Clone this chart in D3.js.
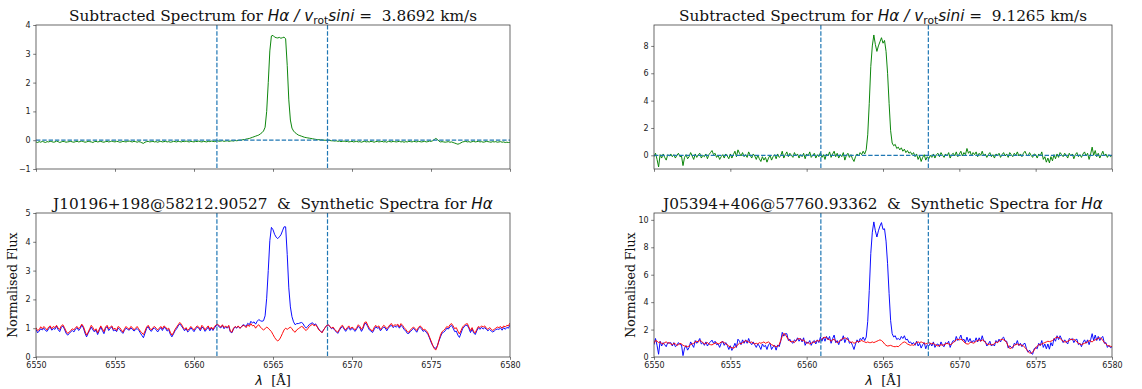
<!DOCTYPE html>
<html><head><meta charset="utf-8">
<script src="https://cdn.jsdelivr.net/npm/d3@7"></script>
<style>body{margin:0;background:#fff}svg{display:block}</style>
</head><body><svg id="c" width="1142" height="389"></svg>
<script>
// wavelength grid of the spectra (Å)
const lambdaStart = 6550, lambdaStep = 0.1;
const xTicks = [6550, 6555, 6560, 6565, 6570, 6575, 6580];
const yTicksTopLeft = [-1, 0, 1, 2, 3, 4];
const yTicksTopRight = [0, 2, 4, 6, 8];
const yTicksBottomLeft = [0, 1, 2, 3, 4, 5];
const yTicksBottomRight = [0, 2, 4, 6, 8, 10];
const windowLeft = [6561.45, 6568.45];
const windowRight = [6560.93, 6567.97];

const leftSubtracted = [
-0.06,-0.08,-0.05,-0.07,-0.04,-0.06,-0.08,-0.05,-0.06,-0.04,
-0.05,-0.07,-0.06,-0.03,-0.05,-0.08,-0.06,-0.04,-0.05,-0.07,
-0.06,-0.05,-0.04,-0.06,-0.07,-0.05,-0.04,-0.06,-0.05,-0.03,
-0.05,-0.07,-0.06,-0.04,-0.05,-0.06,-0.08,-0.05,-0.04,-0.06,
-0.05,-0.04,-0.06,-0.07,-0.05,-0.04,-0.06,-0.05,-0.03,-0.05,
-0.06,-0.04,-0.05,-0.07,-0.06,-0.04,-0.05,-0.06,-0.04,-0.03,
-0.05,-0.06,-0.04,-0.05,-0.07,-0.05,-0.06,-0.09,-0.11,-0.07,
-0.05,-0.04,-0.06,-0.05,-0.04,-0.06,-0.05,-0.07,-0.05,-0.04,
-0.06,-0.05,-0.04,-0.06,-0.05,-0.07,-0.06,-0.04,-0.05,-0.06,
-0.04,-0.05,-0.06,-0.04,-0.05,-0.03,-0.05,-0.06,-0.04,-0.05,
-0.06,-0.04,-0.05,-0.03,-0.05,-0.06,-0.04,-0.05,-0.06,-0.04,
-0.05,-0.03,-0.04,-0.05,-0.03,-0.02,-0.04,-0.03,-0.02,-0.04,
-0.03,-0.02,-0.04,-0.03,-0.02,-0.03,-0.01,-0.02,-0.01,0.00,
0.00,0.02,0.02,0.04,0.05,0.06,0.08,0.10,0.12,0.14,
0.16,0.18,0.22,0.26,0.32,0.45,1.00,2.00,3.10,3.62,
3.64,3.58,3.56,3.55,3.57,3.54,3.56,3.58,3.52,2.60,
1.40,0.70,0.42,0.32,0.26,0.22,0.18,0.16,0.14,0.12,
0.10,0.09,0.08,0.07,0.06,0.05,0.04,0.03,0.02,0.02,
0.01,0.01,0.00,0.00,-0.01,0.00,-0.01,-0.02,-0.02,-0.03,
-0.02,-0.04,-0.03,-0.05,-0.04,-0.03,-0.05,-0.04,-0.06,-0.05,
-0.04,-0.06,-0.05,-0.04,-0.06,-0.05,-0.07,-0.05,-0.04,-0.06,
-0.05,-0.06,-0.04,-0.05,-0.07,-0.05,-0.04,-0.06,-0.05,-0.04,
-0.06,-0.05,-0.07,-0.04,-0.05,-0.06,-0.04,-0.05,-0.06,-0.05,
-0.04,-0.06,-0.05,-0.07,-0.05,-0.06,-0.04,-0.05,-0.06,-0.04,
-0.05,-0.06,-0.04,-0.05,-0.06,-0.05,-0.04,-0.06,-0.05,-0.03,
-0.04,-0.02,0.02,0.06,0.03,-0.03,-0.06,-0.05,-0.06,-0.07,
-0.06,-0.05,-0.07,-0.06,-0.08,-0.10,-0.12,-0.14,-0.12,-0.09,
-0.06,-0.05,-0.04,-0.06,-0.05,-0.07,-0.05,-0.04,-0.06,-0.05,
-0.04,-0.06,-0.05,-0.07,-0.06,-0.04,-0.05,-0.06,-0.07,-0.05,
-0.06,-0.05,-0.07,-0.06,-0.05,-0.07,-0.06,-0.08,-0.07,-0.08,
-0.07];

const leftSynthetic = [
1.02,0.92,0.95,1.05,0.98,1.06,1.00,0.94,1.04,1.08,
0.98,1.06,1.02,1.10,1.00,0.96,1.08,1.12,1.02,0.90,
0.82,0.86,0.92,0.98,0.94,1.02,1.06,0.98,1.04,1.14,
1.06,0.90,0.76,0.86,0.98,1.10,1.02,0.92,0.98,0.84,
0.96,1.08,0.98,0.88,1.04,1.10,0.98,1.04,1.08,0.96,
1.00,0.92,1.06,1.02,0.94,0.86,0.98,1.06,1.00,0.96,
1.06,1.02,0.94,1.00,1.06,0.98,0.90,0.84,0.78,0.90,
1.04,1.10,1.00,0.94,1.02,1.06,1.00,0.94,1.00,1.06,
0.98,1.08,1.04,0.96,1.00,0.86,0.76,0.84,0.96,1.04,
1.12,1.20,1.14,1.04,0.96,1.02,0.92,0.98,1.06,1.00,
0.94,1.02,1.08,1.04,0.96,1.10,1.04,0.94,1.02,1.08,
0.96,1.04,0.96,1.06,1.12,1.14,1.08,1.04,1.12,1.02,
1.08,1.02,1.10,0.90,0.86,1.00,1.06,1.02,1.08,1.00,
1.04,1.10,1.08,1.02,1.12,1.06,1.16,1.08,1.10,1.00,
1.08,1.12,1.04,0.98,0.94,0.98,1.04,1.00,0.94,0.88,
0.78,0.68,0.60,0.56,0.60,0.70,0.82,0.94,1.00,0.96,
1.00,1.04,0.98,0.90,0.86,0.94,0.98,1.02,1.06,1.04,
0.96,0.92,0.98,1.06,1.10,1.14,1.08,1.12,1.04,0.94,
0.90,0.84,0.94,1.02,1.10,1.12,1.06,1.00,1.04,0.96,
0.90,0.86,0.96,1.06,1.10,1.00,0.94,1.02,1.08,0.98,
1.04,1.00,0.94,1.02,1.12,1.06,0.96,1.04,1.20,1.22,
1.10,1.00,0.94,0.90,1.02,1.10,1.04,1.08,0.96,1.02,
1.10,1.06,0.98,1.04,1.12,1.16,1.06,1.12,1.10,1.14,
1.04,1.16,1.10,1.02,0.96,0.88,0.86,0.94,1.00,1.04,
0.98,0.92,1.02,1.08,1.04,0.94,0.96,0.92,0.84,0.70,
0.56,0.42,0.30,0.24,0.36,0.58,0.76,0.88,0.92,0.98,
1.06,1.02,1.12,1.16,1.08,0.98,1.02,0.90,0.80,0.92,
1.04,1.10,1.14,1.16,1.04,0.92,1.02,0.88,0.84,0.96,
1.06,1.02,1.08,1.04,1.08,1.00,0.96,1.02,0.98,0.92,
0.96,1.00,1.04,1.02,1.06,1.00,1.08,1.04,1.10,1.08,
1.18];

const leftObserved = [
0.96,0.84,0.90,0.98,0.94,1.00,0.92,0.89,0.98,1.04,
0.93,0.99,0.96,1.07,0.95,0.88,1.02,1.08,0.97,0.83,
0.76,0.81,0.88,0.92,0.87,0.97,1.02,0.92,0.99,1.11,
1.01,0.83,0.70,0.82,0.93,1.04,0.94,0.87,0.94,0.78,
0.91,1.04,0.92,0.81,0.99,1.06,0.92,0.99,1.05,0.91,
0.94,0.88,1.01,0.95,0.88,0.82,0.93,1.00,0.96,0.93,
1.01,0.96,0.90,0.95,0.99,0.93,0.84,0.75,0.67,0.83,
0.99,1.06,0.94,0.89,0.98,1.00,0.95,0.87,0.95,1.02,
0.92,1.03,1.00,0.90,0.95,0.79,0.70,0.80,0.91,0.98,
1.08,1.15,1.08,1.00,0.91,0.99,0.87,0.92,1.02,0.95,
0.88,0.98,1.03,1.01,0.91,1.04,1.00,0.89,0.96,1.04,
0.91,1.01,0.92,1.01,1.09,1.12,1.04,1.01,1.10,0.98,
1.05,1.00,1.06,0.87,0.84,0.97,1.05,1.00,1.07,1.00,
1.04,1.12,1.10,1.06,1.17,1.12,1.24,1.18,1.22,1.14,
1.24,1.30,1.26,1.24,1.26,1.43,2.04,3.00,4.04,4.50,
4.42,4.26,4.16,4.11,4.17,4.24,4.38,4.52,4.52,3.56,
2.40,1.74,1.40,1.22,1.12,1.16,1.16,1.18,1.20,1.16,
1.06,1.01,1.06,1.13,1.16,1.19,1.12,1.15,1.06,0.96,
0.91,0.85,0.94,1.02,1.09,1.12,1.05,0.98,1.02,0.93,
0.88,0.82,0.93,1.01,1.06,0.97,0.89,0.98,1.02,0.93,
1.00,0.94,0.89,0.98,1.06,1.01,0.89,0.99,1.16,1.16,
1.05,0.94,0.90,0.85,0.95,1.05,1.00,1.02,0.91,0.98,
1.04,1.01,0.91,1.00,1.07,1.10,1.02,1.07,1.04,1.09,
1.00,1.10,1.05,0.95,0.91,0.82,0.82,0.89,0.94,1.00,
0.93,0.86,0.98,1.03,0.98,0.89,0.92,0.86,0.79,0.67,
0.52,0.40,0.32,0.30,0.39,0.55,0.70,0.83,0.86,0.91,
1.00,0.97,1.05,1.10,1.00,0.88,0.90,0.76,0.68,0.83,
0.98,1.05,1.10,1.10,0.99,0.85,0.97,0.84,0.78,0.91,
1.02,0.96,1.03,0.97,1.02,0.96,0.91,0.96,0.91,0.87,
0.90,0.95,0.97,0.96,1.01,0.93,1.02,0.96,1.03,1.00,
1.11];

const rightSubtracted = [
-0.10,0.15,-0.30,-0.85,0.05,-0.20,0.10,-0.15,-0.35,0.05,
-0.05,0.10,-0.10,0.05,-0.20,0.00,0.15,-0.10,-0.05,-0.75,
-0.15,0.05,-0.25,-0.10,0.20,-0.05,-0.30,0.10,-0.15,0.05,
0.15,-0.20,0.00,-0.10,0.10,-0.25,0.05,0.20,0.35,0.05,
0.15,-0.15,0.00,-0.30,-0.10,0.05,-0.20,0.10,-0.05,-0.25,
0.10,-0.20,0.05,0.30,-0.10,0.40,0.15,-0.05,0.20,-0.10,
0.05,-0.15,0.25,0.00,-0.20,0.10,-0.05,-0.30,0.00,-0.25,
-0.45,-0.10,-0.35,-0.15,-0.50,-0.20,0.00,-0.35,-0.10,0.05,
-0.25,0.10,-0.15,-0.05,0.30,-0.20,0.05,0.25,-0.10,0.15,
0.00,-0.15,0.20,-0.05,0.10,-0.20,0.05,-0.10,0.15,-0.25,
0.10,-0.05,0.25,-0.15,0.00,0.15,-0.20,0.05,-0.10,0.20,
-0.15,0.05,-0.30,0.10,-0.05,0.25,-0.15,0.10,0.30,-0.10,
0.15,-0.20,0.05,-0.10,0.20,-0.35,0.00,0.15,-0.15,0.05,
-0.25,-0.45,-0.10,0.10,-0.05,0.20,0.05,0.30,0.10,0.40,
1.50,3.80,6.50,8.00,8.80,8.10,7.60,8.00,8.30,8.60,
8.20,8.40,7.60,6.00,3.80,1.80,0.90,0.70,0.80,0.50,
0.60,0.40,0.55,0.30,0.45,0.20,0.35,0.15,0.25,0.05,
0.20,-0.10,0.10,-0.30,-0.05,-0.45,-0.15,0.05,-0.35,-0.10,
-0.25,0.00,-0.15,0.10,-0.20,0.05,0.15,-0.10,0.20,0.00,
-0.15,0.10,-0.05,0.20,-0.20,0.05,0.15,-0.05,0.25,-0.10,
0.10,0.30,-0.05,0.20,0.05,0.50,0.15,0.30,-0.05,0.20,
0.05,0.25,-0.10,0.15,0.00,0.30,-0.05,0.10,-0.15,0.05,
0.20,-0.10,0.05,-0.20,0.10,0.00,0.15,-0.15,0.05,0.20,
-0.05,0.10,-0.15,0.20,0.05,-0.10,0.15,0.00,0.25,-0.05,
0.10,-0.10,0.15,0.30,0.05,-0.05,0.20,0.00,-0.15,0.10,
0.05,-0.20,0.10,-0.05,0.25,-0.30,-0.10,-0.50,-0.20,-0.55,
-0.10,-0.40,0.05,-0.25,0.10,-0.15,0.20,0.05,-0.10,0.15,
0.00,-0.20,0.15,-0.05,0.10,-0.25,0.05,0.20,-0.10,0.05,
-0.15,0.10,0.25,-0.05,0.15,-0.30,0.10,0.60,0.00,0.35,
-0.10,0.15,-0.20,0.05,0.30,-0.05,0.10,-0.15,0.05,-0.10,
0.00];

const rightSynthetic = [
1.00,1.20,1.15,1.05,1.10,1.00,0.95,1.05,1.10,1.00,
1.05,0.95,0.90,1.00,0.95,0.85,0.90,1.00,0.95,0.85,
0.80,0.78,0.75,0.80,0.90,0.95,1.00,1.10,1.15,1.10,
1.20,1.15,1.05,0.95,1.00,1.05,0.95,0.90,0.88,0.95,
1.00,1.05,0.95,1.00,1.10,1.10,1.05,0.95,0.90,0.80,
0.72,0.68,0.65,0.70,0.80,0.90,1.00,0.95,1.05,1.10,
1.20,1.15,1.10,1.05,1.10,1.00,0.95,1.00,0.95,1.05,
1.00,1.05,1.10,1.00,1.05,1.10,1.00,0.90,0.85,0.80,
0.75,0.78,0.90,1.20,1.50,1.72,1.65,1.45,1.30,1.15,
1.10,1.15,1.05,1.20,1.30,1.35,1.30,1.20,1.25,1.10,
1.00,1.05,0.95,1.00,1.10,1.05,1.15,1.20,1.15,1.25,
1.30,1.40,1.45,1.40,1.30,1.25,1.15,1.25,1.30,1.15,
1.05,1.10,1.20,1.30,1.35,1.40,1.35,1.25,1.15,1.05,
1.10,1.00,1.05,1.15,1.10,1.15,1.20,1.15,1.10,1.05,
1.10,1.05,1.05,1.10,1.05,1.10,1.15,1.20,1.25,1.20,
1.10,0.95,0.85,0.80,0.82,0.85,0.80,0.76,0.75,0.78,
0.75,0.85,0.95,1.05,1.10,1.05,0.95,0.90,0.85,0.90,
0.85,0.95,1.05,1.10,1.05,1.10,1.05,1.00,0.95,1.00,
1.05,1.00,0.95,1.00,0.90,0.85,0.80,0.85,0.90,0.85,
0.90,0.95,1.00,0.95,0.90,0.95,1.05,1.15,1.25,1.30,
1.25,1.30,1.25,1.10,1.00,0.95,0.95,1.05,1.10,1.00,
1.05,1.15,1.20,1.25,1.15,1.25,1.20,1.05,0.95,0.90,
0.95,0.90,0.88,1.00,1.10,1.05,1.15,1.25,1.30,1.25,
1.20,1.05,0.80,0.62,0.65,0.75,0.85,0.90,0.95,0.88,
0.90,0.85,0.80,0.70,0.55,0.40,0.30,0.28,0.35,0.50,
0.65,0.80,0.90,0.88,0.95,1.00,1.05,1.10,1.15,1.12,
1.15,1.20,1.30,1.40,1.45,1.42,1.35,1.25,1.15,1.10,
1.10,1.15,1.20,1.30,1.25,1.30,1.20,1.10,1.00,0.95,
0.90,0.95,1.00,1.05,1.10,1.20,1.15,1.10,1.20,1.25,
1.30,1.35,1.40,1.35,1.20,1.05,0.95,0.85,0.80,0.78,
0.75];

const rightObserved = [
0.90,1.35,0.85,0.20,1.15,0.80,1.05,0.90,0.75,1.05,
1.00,1.05,0.80,1.05,0.75,0.85,1.05,0.90,0.90,0.10,
0.65,0.83,0.50,0.70,1.10,0.90,0.70,1.20,1.00,1.15,
1.35,0.95,1.05,0.85,1.10,0.80,1.00,1.10,1.23,1.00,
1.15,0.90,0.95,0.70,1.00,1.15,0.85,1.05,0.85,0.55,
0.82,0.48,0.70,1.00,0.70,1.30,1.15,0.90,1.25,1.00,
1.25,1.00,1.35,1.05,0.90,1.10,0.90,0.70,0.95,0.80,
0.55,0.95,0.75,0.85,0.55,0.90,1.00,0.55,0.75,0.85,
0.50,0.88,0.75,1.15,1.80,1.52,1.70,1.70,1.20,1.30,
1.10,1.00,1.25,1.15,1.40,1.15,1.35,1.10,1.40,0.85,
1.10,1.00,1.20,0.85,1.10,1.20,0.95,1.25,1.05,1.45,
1.15,1.45,1.15,1.50,1.25,1.50,1.00,1.35,1.60,1.05,
1.20,0.90,1.25,1.20,1.55,1.05,1.35,1.40,1.00,1.10,
0.85,0.55,0.95,1.25,1.05,1.35,1.25,1.45,1.20,1.45,
2.60,4.85,7.55,9.10,9.85,9.20,8.75,9.20,9.55,9.80,
9.30,9.35,8.45,6.80,4.62,2.65,1.70,1.46,1.55,1.28,
1.35,1.25,1.50,1.35,1.55,1.25,1.30,1.05,1.10,0.95,
1.05,0.85,1.15,0.80,1.00,0.65,0.90,1.05,0.60,0.90,
0.80,1.00,0.80,1.10,0.70,0.90,0.95,0.75,1.10,0.85,
0.75,1.05,0.95,1.15,0.70,1.00,1.20,1.10,1.50,1.20,
1.35,1.60,1.20,1.30,1.05,1.45,1.10,1.35,1.05,1.20,
1.10,1.40,1.10,1.40,1.15,1.55,1.15,1.15,0.80,0.95,
1.15,0.80,0.93,0.80,1.20,1.05,1.30,1.10,1.35,1.45,
1.15,1.15,0.65,0.82,0.70,0.65,1.00,0.90,1.20,0.83,
1.00,0.75,0.95,1.00,0.60,0.35,0.50,0.28,0.20,0.60,
0.70,0.60,1.00,0.83,1.20,0.70,0.95,0.60,0.95,0.57,
1.05,0.80,1.35,1.15,1.55,1.27,1.55,1.30,1.05,1.25,
1.10,0.95,1.35,1.25,1.35,1.05,1.25,1.30,0.90,1.00,
0.75,1.05,1.25,1.00,1.25,0.90,1.25,1.70,1.20,1.60,
1.20,1.50,1.20,1.40,1.50,1.00,1.05,0.70,0.85,0.68,
0.75];

const titleTopLeftValue = "3.8692";
const titleTopRightValue = "9.1265";
const starLeft = "J10196+198@58212.90527";
const starRight = "J05394+406@57760.93362";

// ---------------- drawing ----------------
const svg = d3.select("#c");
const SERIF = "'DejaVu Serif', serif", SANS = "'DejaVu Sans', sans-serif";
const AX = "#444", DASHC = "#1f77b4";
const cols = [{l: 36, r: 510}, {l: 654, r: 1112}];
const rows = [{t: 25, b: 169}, {t: 213, b: 357}];
const TITLE_FS = 15.3;

function toPoints(arr) { return arr.map((v, i) => [lambdaStart + i * lambdaStep, v]); }

function drawTitle(cx, y, parts) {
  const t = svg.append("text").attr("x", cx).attr("y", y).attr("text-anchor", "middle")
    .attr("font-size", TITLE_FS).attr("fill", "#111");
  parts.forEach(p => {
    const s = t.append("tspan").text(p.t)
      .attr("font-family", p.f === "sans" ? SANS : SERIF)
      .attr("font-style", p.i ? "italic" : "normal");
    if (p.sub) s.attr("dy", 3.2).attr("font-size", TITLE_FS * 0.7);
    if (p.after) s.attr("dy", -3.2);
  });
  t.style("white-space", "pre");
}

let clipId = 0;
function panel(col, row, opts) {
  const c = cols[col], r = rows[row];
  const x = d3.scaleLinear().domain([6550, 6580]).range([c.l, c.r]);
  const y = d3.scaleLinear().domain(opts.yDomain).range([r.b, r.t]);
  const g = svg.append("g");
  const id = "clip" + (clipId++);
  svg.append("clipPath").attr("id", id).append("rect")
    .attr("x", c.l).attr("y", r.t).attr("width", c.r - c.l).attr("height", r.b - r.t);
  const pg = g.append("g").attr("clip-path", `url(#${id})`);
  const line = d3.line().x(d => x(d[0])).y(d => y(d[1]));
  opts.series.forEach(s => {
    if (s.hline !== undefined) {
      pg.append("line").attr("x1", c.l).attr("x2", c.r).attr("y1", y(s.hline)).attr("y2", y(s.hline))
        .attr("stroke", DASHC).attr("stroke-width", 1.2).attr("stroke-dasharray", "4.4,1.9");
      return;
    }
    pg.append("path").datum(toPoints(s.data)).attr("d", line).attr("fill", "none")
      .attr("stroke", s.color).attr("stroke-width", 0.95).attr("stroke-linejoin", "round");
  });
  opts.vlines.forEach(v => {
    pg.append("line").attr("x1", x(v)).attr("x2", x(v)).attr("y1", r.t).attr("y2", r.b)
      .attr("stroke", DASHC).attr("stroke-width", 1.2).attr("stroke-dasharray", "4.4,1.9");
  });
  // axes
  const fmt = d => d < 0 ? "\u2212" + Math.abs(d) : String(d);
  const xa = g.append("g").attr("transform", `translate(0,${r.b})`)
    .call(d3.axisBottom(x).tickValues(xTicks).tickSize(2.8).tickPadding(2.5)
      .tickFormat(opts.xLabels ? d => String(d) : () => ""));
  const ya = g.append("g").attr("transform", `translate(${c.l},0)`)
    .call(d3.axisLeft(y).tickValues(opts.yTicks).tickSize(2.8).tickPadding(2.5).tickFormat(fmt));
  [xa, ya].forEach(a => {
    a.select(".domain").remove();
    a.selectAll("line").attr("stroke", AX).attr("stroke-width", 0.7);
    a.selectAll("text").attr("font-family", SANS).attr("font-size", 8).attr("fill", "#222");
  });
  g.append("rect").attr("x", c.l).attr("y", r.t).attr("width", c.r - c.l).attr("height", r.b - r.t)
    .attr("fill", "none").attr("stroke", AX).attr("stroke-width", 0.8);
  return {x, y, c, r};
}

panel(0, 0, {yDomain: [-1, 4], yTicks: yTicksTopLeft, vlines: windowLeft,
  series: [{data: leftSubtracted, color: "#008000"}, {hline: 0}]});
panel(1, 0, {yDomain: [-1, 9.53], yTicks: yTicksTopRight, vlines: windowRight,
  series: [{data: rightSubtracted, color: "#008000"}, {hline: 0}]});
panel(0, 1, {yDomain: [0, 5], yTicks: yTicksBottomLeft, vlines: windowLeft, xLabels: true,
  series: [{data: leftObserved, color: "#0000ff"}, {data: leftSynthetic, color: "#ff0000"}]});
panel(1, 1, {yDomain: [0, 10.5], yTicks: yTicksBottomRight, vlines: windowRight, xLabels: true,
  series: [{data: rightObserved, color: "#0000ff"}, {data: rightSynthetic, color: "#ff0000"}]});

// titles
[[0, titleTopLeftValue], [1, titleTopRightValue]].forEach(([ci, val]) => {
  const cx = (cols[ci].l + cols[ci].r) / 2;
  drawTitle(cx, 20.5, [
    {t: "Subtracted Spectrum for "}, {t: "H\u03b1", f: "sans", i: true}, {t: " / ", f: "sans", i: true},
    {t: "v", f: "sans", i: true}, {t: "rot", f: "sans", sub: true}, {t: "sini", f: "sans", i: true, after: true},
    {t: " =  " + val + " km/s"}]);
});
[[0, starLeft], [1, starRight]].forEach(([ci, star]) => {
  const cx = (cols[ci].l + cols[ci].r) / 2;
  drawTitle(cx, 208.5, [{t: star + "  &  Synthetic Spectra for "}, {t: "H\u03b1", f: "sans", i: true}]);
});

// axis labels
[0, 1].forEach(ci => {
  const c = cols[ci], r = rows[1];
  const cx = (c.l + c.r) / 2;
  const xl = svg.append("text").attr("x", cx).attr("y", 385).attr("text-anchor", "middle")
    .attr("font-size", 13).attr("fill", "#111").style("white-space", "pre");
  xl.append("tspan").text("\u03bb").attr("font-family", SANS).attr("font-style", "italic");
  xl.append("tspan").text("  [\u00c5]").attr("font-family", SERIF);
  svg.append("text").attr("transform", `translate(${c.l - 19},${(r.t + r.b) / 2}) rotate(-90)`)
    .attr("text-anchor", "middle").attr("font-family", SERIF).attr("font-size", 12.5).attr("fill", "#111")
    .text("Normalised Flux");
});
</script></body></html>
